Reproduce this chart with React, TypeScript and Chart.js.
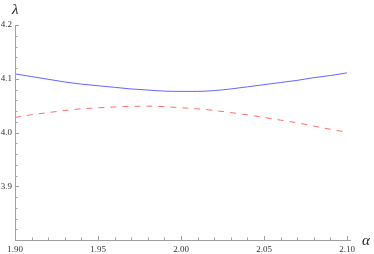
import React, { useEffect, useRef } from "react";
import { Chart, registerables } from "chart.js";

Chart.register(...registerables);

const alphas = [1.9, 1.91, 1.92, 1.93, 1.94, 1.95, 1.96, 1.97, 1.98, 1.99, 2.0, 2.01, 2.02, 2.03, 2.04, 2.05, 2.06, 2.07, 2.08, 2.09, 2.1];
const blueSeries = [4.109, 4.104, 4.099, 4.094, 4.09, 4.087, 4.084, 4.081, 4.079, 4.077, 4.0765, 4.0765, 4.078, 4.081, 4.085, 4.089, 4.093, 4.097, 4.102, 4.106, 4.111];
const redSeries = [4.028, 4.033, 4.037, 4.041, 4.044, 4.046, 4.0475, 4.0485, 4.049, 4.048, 4.046, 4.044, 4.041, 4.037, 4.033, 4.028, 4.023, 4.018, 4.012, 4.006, 4.0005];
const xMajorTicks = [1.9, 1.95, 2.0, 2.05, 2.1];
const yMajorTicks = [3.8, 3.9, 4.0, 4.1, 4.2];
const xLabel = "α";
const yLabel = "λ";

const AXIS_COLOR = "#a0a0a0";
const TEXT_COLOR = "#333";
const FONT = "'Liberation Serif', 'DejaVu Serif', serif";

const tickPlugin = {
  id: "inwardTicks",
  afterDraw(chart: any) {
    const { ctx, chartArea, scales } = chart;
    const xs = scales.x;
    const ys = scales.y;
    ctx.save();
    ctx.strokeStyle = AXIS_COLOR;
    ctx.lineWidth = 1;
    ctx.beginPath();
    ctx.moveTo(chartArea.left + 0.5, chartArea.top);
    ctx.lineTo(chartArea.left + 0.5, chartArea.bottom + 0.5);
    ctx.lineTo(chartArea.right + 4, chartArea.bottom + 0.5);
    ctx.stroke();
    for (let i = 0; i < xMajorTicks.length; i++) {
      const v = xMajorTicks[i];
      const px = Math.round(xs.getPixelForValue(v)) + 0.5;
      ctx.beginPath();
      ctx.moveTo(px, chartArea.bottom);
      ctx.lineTo(px, chartArea.bottom - 4);
      ctx.stroke();
      if (i < xMajorTicks.length - 1) {
        const step = (xMajorTicks[i + 1] - v) / 5;
        for (let k = 1; k < 5; k++) {
          const mx = Math.round(xs.getPixelForValue(v + step * k)) + 0.5;
          ctx.beginPath();
          ctx.moveTo(mx, chartArea.bottom);
          ctx.lineTo(mx, chartArea.bottom - 2.5);
          ctx.stroke();
        }
      }
    }
    for (let i = 0; i < yMajorTicks.length; i++) {
      const v = yMajorTicks[i];
      const py = Math.round(ys.getPixelForValue(v)) + 0.5;
      ctx.beginPath();
      ctx.moveTo(chartArea.left, py);
      ctx.lineTo(chartArea.left + 4, py);
      ctx.stroke();
      if (i < yMajorTicks.length - 1) {
        const step = (yMajorTicks[i + 1] - v) / 5;
        for (let k = 1; k < 5; k++) {
          const my = Math.round(ys.getPixelForValue(v + step * k)) + 0.5;
          ctx.beginPath();
          ctx.moveTo(chartArea.left, my);
          ctx.lineTo(chartArea.left + 2.5, my);
          ctx.stroke();
        }
      }
    }
    ctx.fillStyle = TEXT_COLOR;
    ctx.font = `9px ${FONT}`;
    ctx.textAlign = "center";
    ctx.textBaseline = "middle";
    for (const v of xMajorTicks) {
      const px = xs.getPixelForValue(v);
      ctx.fillText(v.toFixed(2), Math.max(px, 10), chartArea.bottom + 10);
    }
    ctx.textAlign = "right";
    for (const v of yMajorTicks) {
      if (v === yMajorTicks[0]) continue;
      const py = ys.getPixelForValue(v);
      ctx.fillText(v.toFixed(1), chartArea.left - 3, py);
    }
    ctx.fillStyle = "#222";
    ctx.font = `italic 15px ${FONT}`;
    ctx.textAlign = "left";
    ctx.fillText(yLabel, chartArea.left - 3, chartArea.top - 15);
    ctx.fillText(xLabel, chartArea.right + 15, chartArea.bottom + 1);
    ctx.restore();
  },
};

export default function App() {
  const ref = useRef<HTMLCanvasElement | null>(null);
  useEffect(() => {
    document.body.style.margin = "0";
    const canvas = ref.current!;
    const chart = new Chart(canvas, {
      type: "line",
      data: {
        datasets: [
          {
            data: alphas.map((a, i) => ({ x: a, y: blueSeries[i] })),
            borderColor: "rgb(100,100,255)",
            borderWidth: 1,
            pointRadius: 0,
            cubicInterpolationMode: "monotone",
          },
          {
            data: alphas.map((a, i) => ({ x: a, y: redSeries[i] })),
            borderColor: "rgb(255,110,110)",
            borderWidth: 1,
            borderDash: [6, 6],
            pointRadius: 0,
            cubicInterpolationMode: "monotone",
          },
        ],
      },
      options: {
        animation: false,
        responsive: false,
        maintainAspectRatio: false,
        layout: { padding: { left: 15, right: 27, top: 25, bottom: 14 } },
        plugins: { legend: { display: false }, tooltip: { enabled: false } },
        scales: {
          x: {
            type: "linear",
            min: 1.9,
            max: 2.1,
            grid: { display: false, drawTicks: false },
            border: { display: false },
            ticks: { display: false },
            afterFit: (s: any) => { s.height = 0; },
          },
          y: {
            type: "linear",
            min: 3.8,
            max: 4.2,
            grid: { display: false, drawTicks: false },
            border: { display: false },
            ticks: { display: false },
            afterFit: (s: any) => { s.width = 0; },
          },
        },
      },
      plugins: [tickPlugin],
    });
    return () => chart.destroy();
  }, []);
  return (
    <div style={{ width: 374, height: 254, background: "#fff" }}>
      <canvas ref={ref} width={374} height={254} style={{ display: "block" }} />
    </div>
  );
}
